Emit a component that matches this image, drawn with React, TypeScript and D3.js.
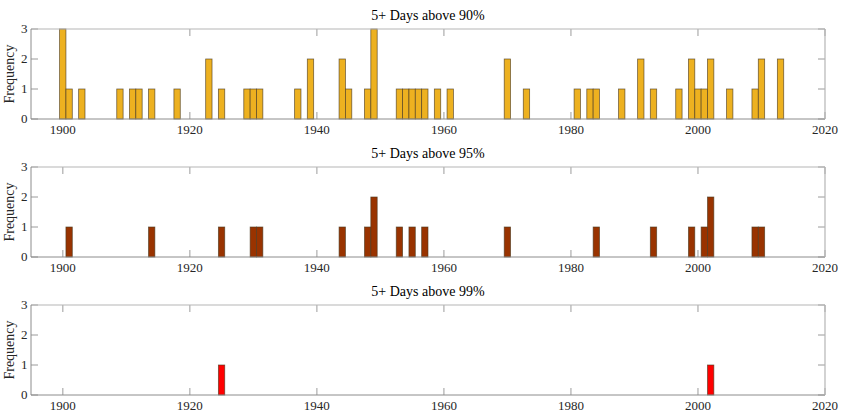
import React from "react";
import * as d3 from "d3";

const xTicks = [1900, 1920, 1940, 1960, 1980, 2000, 2020];
const yTicks = [0, 1, 2, 3];

const titles = ["5+ Days above 90%", "5+ Days above 95%", "5+ Days above 99%"];
const colors = ["#EDB120", "#993300", "#FF0000"];

const years90 = [1900, 1901, 1903, 1909, 1911, 1912, 1914, 1918, 1923, 1925, 1929, 1930, 1931, 1937, 1939, 1944, 1945, 1948, 1949, 1953, 1954, 1955, 1956, 1957, 1959, 1961, 1970, 1973, 1981, 1983, 1984, 1988, 1991, 1993, 1997, 1999, 2000, 2001, 2002, 2005, 2009, 2010, 2013];
const counts90 = [3, 1, 1, 1, 1, 1, 1, 1, 2, 1, 1, 1, 1, 1, 2, 2, 1, 1, 3, 1, 1, 1, 1, 1, 1, 1, 2, 1, 1, 1, 1, 1, 2, 1, 1, 2, 1, 1, 2, 1, 1, 2, 2];

const years95 = [1901, 1914, 1925, 1930, 1931, 1944, 1948, 1949, 1953, 1955, 1957, 1970, 1984, 1993, 1999, 2001, 2002, 2009, 2010];
const counts95 = [1, 1, 1, 1, 1, 1, 1, 2, 1, 1, 1, 1, 1, 1, 1, 1, 2, 1, 1];

const years99 = [1925, 2002];
const counts99 = [1, 1];

const series = [
  { years: years90, counts: counts90 },
  { years: years95, counts: counts95 },
  { years: years99, counts: counts99 },
];

const W = 843;
const H = 411;
const left = 31;
const right = 825;
const panelTops = [29, 167, 305];
const panelH = 90;
const tickLen = 7;

const serif = { fontFamily: "Liberation Serif, DejaVu Serif, serif" };

export default function App() {
  const x = d3.scaleLinear().domain([1895, 2020]).range([left, right]);
  return (
    <svg width={W} height={H} style={{ position: "absolute", left: 0, top: 0, background: "#fff" }}>
      {series.map((s, i) => {
        const top = panelTops[i];
        const bottom = top + panelH;
        const y = d3.scaleLinear().domain([0, 3]).range([bottom, top]);
        return (
          <g key={i}>
            <rect x={left} y={top} width={right - left} height={panelH} fill="#fff" />
            {xTicks.map((t) => (
              <g key={"xt" + t}>
                <line x1={x(t)} x2={x(t)} y1={bottom} y2={bottom - tickLen} stroke="#bdbdbd" strokeWidth={1.5} />
                <line x1={x(t)} x2={x(t)} y1={top} y2={top + tickLen} stroke="#bdbdbd" strokeWidth={1.5} />
                <text x={x(t)} y={bottom + 14.5} textAnchor="middle" fontSize={13} fill="#262626" style={serif}>{t}</text>
              </g>
            ))}
            {yTicks.map((t) => (
              <g key={"yt" + t}>
                <line x1={left} x2={left + tickLen} y1={y(t)} y2={y(t)} stroke="#9a9a9a" strokeWidth={1} />
                <line x1={right} x2={right - tickLen} y1={y(t)} y2={y(t)} stroke="#9a9a9a" strokeWidth={1} />
                <text x={27.5} y={y(t)} dy="0.33em" textAnchor="end" fontSize={13} fill="#262626" style={serif}>{t}</text>
              </g>
            ))}
            {s.years.map((yr, j) => (
              <rect
                key={yr}
                x={x(yr - 0.5)}
                y={y(s.counts[j])}
                width={x(yr + 0.5) - x(yr - 0.5)}
                height={bottom - y(s.counts[j])}
                fill={colors[i]}
                stroke="#4a3a20"
                strokeOpacity={0.75}
                strokeWidth={0.8}
              />
            ))}
            <line x1={left} x2={right} y1={top} y2={top} stroke="#b5b5b5" strokeWidth={1.2} />
            <line x1={left} x2={right} y1={bottom} y2={bottom} stroke="#8c8c8c" strokeWidth={1} />
            <line x1={left} x2={left} y1={top} y2={bottom} stroke="#8c8c8c" strokeWidth={1} />
            <line x1={right} x2={right} y1={top} y2={bottom} stroke="#b5b5b5" strokeWidth={1.2} />
            <text x={(left + right) / 2} y={top - 9.5} textAnchor="middle" fontSize={14} fill="#000" style={serif}>{titles[i]}</text>
            <text transform={`translate(14,${(top + bottom) / 2}) rotate(-90)`} textAnchor="middle" fontSize={14} fill="#262626" style={serif}>Frequency</text>
          </g>
        );
      })}
    </svg>
  );
}
